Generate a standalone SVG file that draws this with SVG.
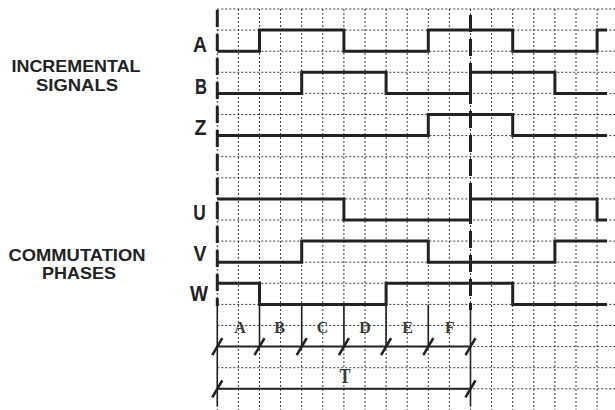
<svg xmlns="http://www.w3.org/2000/svg" width="615" height="410" viewBox="0 0 615 410">
<style>
.grid{fill:none;stroke:#3a3a3a;stroke-width:1;stroke-dasharray:2 2}
.sig{fill:none;stroke:#222;stroke-width:3;stroke-linejoin:miter;stroke-linecap:butt}
.axis{fill:none;stroke:#222;stroke-width:3;stroke-dasharray:17 7}
.thin{fill:none;stroke:#222;stroke-width:1.6}
.bar{fill:none;stroke:#222;stroke-width:2}
.slash{fill:none;stroke:#222;stroke-width:2.6}
.grp{font-family:"Liberation Sans",Arial,sans-serif;font-weight:bold;font-size:17px;fill:#222;text-anchor:middle}
.sl{font-family:"Liberation Sans",Arial,sans-serif;font-weight:bold;font-size:22px;fill:#222;text-anchor:middle}
.seg{font-family:"Liberation Serif","Times New Roman",serif;font-weight:bold;font-size:16px;fill:#3a3a3a;text-anchor:middle}
</style>
<rect width="615" height="410" fill="#fff"/>
<g id="grid">
<path class="grid" d="M217.3,9V410M238.4,9V410M259.5,9V410M280.6,9V410M301.7,9V410M322.8,9V410M343.9,9V410M365,9V410M386.1,9V410M407.2,9V410M428.3,9V410M449.4,9V410M470.5,9V410M491.6,9V410M512.7,9V410M533.8,9V410M554.9,9V410M576,9V410M597.1,9V410"/>
<path class="grid" d="M217.3,9H615M217.3,30.1H615M217.3,51.2H615M217.3,72.3H615M217.3,93.4H615M217.3,114.5H615M217.3,135.6H615M217.3,156.7H615M217.3,177.8H615M217.3,198.9H615M217.3,220H615M217.3,241.1H615M217.3,262.2H615M217.3,283.3H615M217.3,304.4H615M217.3,325.5H615M217.3,346.6H615M217.3,367.7H615M217.3,388.8H615"/>
</g>
<g id="group-labels">
<text class="grp" x="76" y="72" textLength="129" lengthAdjust="spacingAndGlyphs">INCREMENTAL</text>
<text class="grp" x="77" y="91" textLength="82" lengthAdjust="spacingAndGlyphs">SIGNALS</text>
<text class="grp" x="77" y="261" textLength="137" lengthAdjust="spacingAndGlyphs">COMMUTATION</text>
<text class="grp" x="79" y="278.8" textLength="74" lengthAdjust="spacingAndGlyphs">PHASES</text>
</g>
<g id="signal-A"><text class="sl" x="200" y="52.3" textLength="14" lengthAdjust="spacingAndGlyphs">A</text>
<path class="sig" d="M217.3,51.2H259.5V30.1H343.9V51.2H428.3V30.1H512.7V51.2H597.1V30.1H607"/></g>
<g id="signal-B"><text class="sl" x="201" y="94" textLength="12" lengthAdjust="spacingAndGlyphs">B</text>
<path class="sig" d="M217.3,93.4H301.7V72.3H386.1V93.4H470.5V72.3H554.9V93.4H607"/></g>
<g id="signal-Z"><text class="sl" x="200.5" y="135" textLength="12" lengthAdjust="spacingAndGlyphs">Z</text>
<path class="sig" d="M217.3,135.6H428.3V114.5H512.7V135.6H607"/></g>
<g id="signal-U"><text class="sl" x="199.5" y="220" textLength="12.5" lengthAdjust="spacingAndGlyphs">U</text>
<path class="sig" d="M217.3,198.9H343.9V220H470.5V198.9H597.1V220H607"/></g>
<g id="signal-V"><text class="sl" x="200" y="261" textLength="13" lengthAdjust="spacingAndGlyphs">V</text>
<path class="sig" d="M217.3,262.2H301.7V241.1H428.3V262.2H554.9V241.1H607"/></g>
<g id="signal-W"><text class="sl" x="199" y="300.5" textLength="18" lengthAdjust="spacingAndGlyphs">W</text>
<path class="sig" d="M217.3,283.3H259.5V304.4H386.1V283.3H512.7V304.4H607"/></g>
<g id="connectors">
<path class="axis" d="M217.3,10V306"/>
<path class="axis" d="M470.5,15V310"/>
<path class="thin" d="M217.3,304V406M470.5,306V406"/>
<path class="thin" d="M259.5,304.4V346.6M301.7,304.4V346.6M343.9,304.4V346.6M386.1,304.4V346.6M428.3,304.4V346.6"/>
<path class="bar" d="M217.3,346.6H470.5M217.3,388.8H470.5"/>
<path class="slash" d="M212.3,355.1L222.3,338.1M254.5,355.1L264.5,338.1M296.7,355.1L306.7,338.1M338.9,355.1L348.9,338.1M381.1,355.1L391.1,338.1M423.3,355.1L433.3,338.1M465.5,355.1L475.5,338.1M212.3,397.3L222.3,380.3M465.5,397.3L475.5,380.3"/>
</g>
<g id="segments">
<text class="seg" x="240" y="332.7">A</text>
<text class="seg" x="279.5" y="332.7">B</text>
<text class="seg" x="322.5" y="332.7">C</text>
<text class="seg" x="365" y="332.7">D</text>
<text class="seg" x="407.5" y="332.7">E</text>
<text class="seg" x="450" y="332.7">F</text>
<text class="seg" x="345" y="382.7" style="font-size:22px" textLength="11" lengthAdjust="spacingAndGlyphs">T</text>
</g>
</svg>
